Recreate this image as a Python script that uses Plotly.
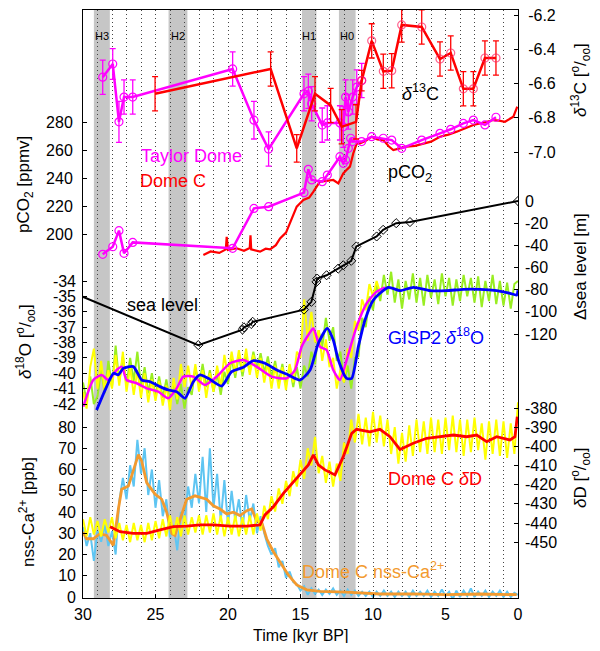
import plotly.graph_objects as go

# ---------------- data ----------------
# Heinrich / cold events (start, end) in kyr BP
event_names = ["H3", "H2", "H1", "H0"]
event_start = [29.25, 24.1, 14.9, 12.35]
event_end = [28.15, 22.8, 13.9, 11.2]

# delta13C Taylor Dome
td_d13c_t = [28.64, 27.95, 27.52, 27.17, 26.57, 19.68, 18.21, 17.2, 14.76, 14.46, 14.23, 13.5, 13.15,
             12.28, 12.05, 11.89, 11.7, 11.4, 11.12, 10.78]
td_d13c_v = [-6.563, -6.486, -6.824, -6.679, -6.679, -6.515, -6.814, -6.983, -6.66, -6.645, -6.718, -6.843,
             -6.83, -6.83, -6.853, -6.679, -6.766, -6.679, -6.621, -6.583]
td_d13c_e = [0.1, 0.09, 0.12, 0.1, 0.1, 0.1, 0.11, 0.1, 0.1, 0.1, 0.1, 0.1, 0.1, 0.1, 0.12, 0.1, 0.1, 0.1, 0.1, 0.1]

# delta13C Dome C
dc_d13c_t = [25.03, 17.06, 15.26, 14.0, 12.92, 12.16, 11.17, 10.78, 10.09, 9.29, 8.71, 8.02, 6.64, 5.38,
             4.64, 3.77, 3.08, 2.28, 1.52]
dc_d13c_v = [-6.66, -6.515, -6.979, -6.66, -6.728, -6.853, -6.824, -6.583, -6.351, -6.529, -6.525, -6.258,
             -6.27, -6.457, -6.422, -6.631, -6.631, -6.451, -6.451]
dc_d13c_e = [0.1, 0.1, 0.08, 0.1, 0.1, 0.1, 0.1, 0.06, 0.1, 0.1, 0.1, 0.1, 0.1, 0.1, 0.1, 0.1, 0.1, 0.1, 0.1]

# pCO2 Taylor Dome
td_co2_t = [28.64, 27.95, 27.52, 27.17, 26.57, 19.68, 18.21, 17.2, 14.76, 14.46, 14.23, 13.5, 13.15, 12.28,
            12.05, 11.89, 11.7, 11.54, 11.4, 10.78, 10.09, 9.29, 8.71, 8.02, 6.64, 5.38, 4.64, 3.77, 3.08,
            2.28, 1.52]
td_co2_v = [185.5, 190.9, 202.4, 186.2, 194.0, 189.8, 218.3, 219.5, 229.5, 246.2, 238.6, 237.4, 242.1, 255.2,
            250.5, 252.9, 261.2, 268.4, 266.0, 266.0, 269.5, 268.4, 267.1, 261.2, 267.1, 271.9, 274.8, 279.0,
            281.4, 277.9, 283.4]

# pCO2 Dome C
dc_co2_t = [21.7, 21.2, 20.6, 20.15, 20.09, 20.0, 19.4, 18.9, 18.5, 18.45, 18.4, 17.79, 17.4, 17.1, 16.7,
            16.41, 16.0, 15.72, 15.26, 14.8, 14.4, 14.11, 13.66, 13.2, 12.74, 12.39, 12.05, 11.8, 11.59, 11.36,
            11.12, 10.9, 10.5, 10.09, 9.7, 9.29, 8.9, 8.6, 8.1, 7.68, 7.1, 6.53, 6.0, 5.38, 4.8, 4.23, 3.6,
            3.08, 2.4, 1.7, 1.3, 0.9, 0.32, 0.05]
dc_co2_v = [185.0, 187.5, 186.5, 189.0, 198.0, 188.6, 189.8, 188.0, 190.0, 199.0, 189.0, 187.4, 189.5, 189.0,
            192.0, 196.9, 201.0, 207.6, 219.5, 224.3, 226.0, 230.2, 237.4, 238.0, 238.6, 236.2, 243.3, 246.0,
            248.1, 257.6, 264.8, 264.8, 266.5, 269.5, 267.5, 267.1, 262.5, 260.0, 261.5, 262.4, 263.0, 264.8,
            266.0, 269.5, 271.0, 273.1, 276.0, 277.9, 279.5, 281.4, 281.0, 280.2, 283.8, 291.0]

# sea level
sl_t = [32.0, 22.05, 19.0, 18.9, 18.4, 18.3, 14.76, 14.25, 13.9, 13.85, 13.2, 12.4, 12.05, 11.5, 11.15,
        9.75, 9.3, 8.4, 7.45, 0.0]
sl_v = [-75.5, -130.0, -116.0, -114.0, -111.0, -109.0, -98.0, -91.0, -73.0, -70.0, -67.0, -61.0, -58.0,
        -54.0, -41.0, -32.0, -26.0, -20.0, -19.0, 0.0]

# GISP2 delta18O smoothed
gisp_t = [29.06, 28.37, 27.9, 27.57, 27.22, 26.53, 25.95, 25.38, 24.69, 24.11, 23.54, 22.97, 22.39, 21.93,
          21.36, 20.44, 19.75, 18.94, 18.25, 17.45, 16.64, 15.84, 15.03, 14.34, 13.77, 13.15, 12.74, 12.39,
          11.82, 11.47, 11.01, 10.55, 9.98, 8.94, 8.14, 7.22, 6.07, 4.92, 3.77, 2.62, 1.47, 0.55, 0.09, 0.0]
gisp_v = [-42.39, -40.87, -40.0, -40.11, -39.68, -39.57, -40.44, -40.55, -40.87, -41.09, -41.2, -41.63, -40.55,
          -40.11, -40.33, -40.83, -39.9, -39.61, -39.18, -39.35, -39.79, -40.11, -40.44, -39.79, -38.05, -37.08,
          -37.84, -39.14, -40.33, -40.33, -38.27, -36.54, -35.24, -34.41, -34.63, -34.41, -34.63, -34.63,
          -34.54, -34.54, -34.63, -34.8, -34.91, -34.6]

# second delta18O record smoothed (magenta)
ngrip_t = [29.98, 29.29, 28.71, 28.25, 27.68, 27.33, 26.99, 26.3, 25.61, 24.81, 24.12, 23.54, 23.08, 22.39,
           21.59, 20.78, 19.86, 18.94, 18.03, 16.99, 15.96, 15.38, 14.92, 14.46, 14.11, 13.66, 13.2, 12.74,
           12.28, 11.82, 11.13, 10.44, 9.75, 9.17]
ngrip_v = [-42.17, -40.44, -40.11, -40.44, -39.79, -39.57, -40.44, -40.65, -40.98, -41.2, -41.63, -40.98,
           -40.22, -40.22, -40.76, -40.22, -39.35, -39.14, -39.57, -40.22, -40.33, -39.79, -38.27, -37.51,
           -37.08, -38.27, -38.49, -39.79, -40.44, -39.14, -36.97, -35.45, -34.69, -34.41]

# raw GISP2 delta18O (green), every 0.25 kyr from 30 kyr
gisp_raw = [-40.6, -41.8, -40.2, -42.0, -41.5, -39.8, -41.3, -39.2, -40.9, -38.2, -40.6, -38.9, -40.8, -39.0,
            -40.5, -38.6, -40.9, -39.6, -41.3, -40.0, -41.5, -40.2, -41.6, -40.4, -41.9, -40.6, -42.0, -40.7,
            -42.3, -40.9, -41.4, -39.6, -40.8, -39.4, -40.9, -39.8, -41.2, -40.0, -41.4, -39.9, -40.7, -39.0,
            -40.3, -38.8, -40.2, -38.9, -39.9, -38.6, -39.7, -38.7, -40.0, -38.9, -40.3, -39.2, -40.6, -39.4,
            -40.8, -39.5, -40.9, -39.6, -41.0, -39.5, -40.2, -38.6, -39.4, -37.2, -38.3, -36.4, -37.9, -37.0,
            -39.2, -38.6, -40.6, -39.5, -41.0, -39.0, -38.9, -36.4, -37.0, -35.0, -35.9, -34.2, -35.3, -33.6,
            -34.9, -33.4, -35.4, -33.9, -35.8, -34.0, -35.2, -33.5, -35.4, -33.8, -35.6, -33.6, -35.1, -33.9,
            -35.5, -33.5, -35.0, -33.8, -35.6, -33.9, -35.3, -33.6, -35.0, -33.8, -35.4, -33.7, -35.7, -34.0,
            -35.3, -33.6, -35.5, -34.0, -35.6, -34.1, -35.8, -34.2, -34.0]

# raw second delta18O record (yellow), every 0.25 kyr from 30 kyr
ngrip_raw = [-41.2, -42.3, -39.6, -38.4, -41.0, -39.2, -41.2, -39.8, -41.0, -38.8, -40.8, -38.6, -41.2, -39.6,
             -41.4, -39.8, -41.6, -40.0, -41.9, -40.4, -41.8, -40.5, -42.1, -40.8, -42.4, -40.3, -41.7, -39.4,
             -40.9, -39.5, -41.0, -39.4, -41.2, -39.8, -41.6, -40.0, -41.2, -39.5, -40.9, -38.8, -40.2, -38.6,
             -40.0, -38.5, -39.9, -38.4, -40.1, -38.8, -40.3, -39.0, -40.6, -39.3, -41.0, -39.5, -41.0, -39.6,
             -41.1, -39.4, -40.6, -38.6, -39.0, -35.2, -37.9, -36.0, -38.0, -37.2, -39.2, -37.8, -39.6, -39.0,
             -41.0, -39.8, -40.6, -38.4, -39.0, -36.6, -37.2, -35.2, -35.9, -34.2, -35.0, -34.0, -34.8]

# Dome C deltaD smoothed
dd_t = [28.14, 27.45, 26.53, 25.61, 24.69, 23.77, 22.85, 21.93, 21.01, 19.86, 18.71, 17.79, 17.45, 16.87,
        16.18, 15.49, 14.8, 14.46, 14.11, 13.77, 13.31, 12.62, 12.05, 11.47, 11.13, 10.21, 9.52, 8.83, 8.14,
        7.22, 6.3, 5.38, 4.46, 3.54, 2.85, 2.16, 1.47, 0.55, 0.21, 0.05]
dd_v = [-441.9, -444.5, -445.4, -445.4, -443.6, -441.9, -441.6, -441.0, -441.0, -441.6, -441.6, -441.0, -435.8,
        -431.5, -424.5, -418.4, -412.3, -409.7, -404.5, -409.7, -412.3, -414.9, -405.4, -393.2, -391.1, -392.4,
        -391.1, -395.0, -401.6, -398.4, -395.8, -395.0, -394.1, -395.0, -394.1, -397.6, -395.0, -396.7, -395.0,
        -384.5]

# Dome C deltaD raw (yellow), every 0.25 kyr from 30 kyr
dd_raw = [-438, -447, -437, -446, -439, -447, -438, -445, -437, -448, -440, -449, -441, -450, -440, -449, -441,
          -450, -440, -449, -439, -448, -438, -447, -436, -446, -437, -447, -436, -446, -437, -445, -436, -446,
          -436, -445, -435, -446, -436, -447, -437, -446, -436, -447, -437, -446, -436, -446, -435, -444, -431,
          -438, -426, -434, -422, -430, -418, -426, -413, -421, -407, -417, -401, -410, -395, -414, -405, -419,
          -408, -421, -409, -418, -398, -404, -386, -398, -383, -399, -385, -400, -382, -398, -384, -400, -386,
          -404, -390, -409, -393, -408, -389, -405, -386, -403, -387, -404, -385, -403, -386, -404, -385, -402,
          -384, -403, -386, -405, -386, -403, -385, -402, -388, -407, -387, -404, -386, -405, -387, -406, -388,
          -404, -377]

# Dome C nss-Ca2+ smoothed
ca_t = [30.0, 29.75, 29.29, 28.83, 28.37, 27.91, 27.56, 27.33, 26.87, 26.53, 26.18, 25.95, 25.61, 25.03,
        24.57, 24.23, 23.88, 23.66, 23.31, 22.85, 22.28, 21.93, 21.47, 21.01, 20.55, 20.09, 19.63, 19.17,
        18.71, 18.37, 18.03, 17.68, 17.33, 16.87, 16.41, 15.84, 15.26, 14.57, 13.66, 11.82, 9.52, 7.22, 4.92,
        2.62, 0.09]
ca_v = [30.6, 27.4, 27.4, 29.8, 29.0, 24.3, 41.4, 50.7, 52.2, 59.2, 67.0, 63.9, 53.8, 48.4, 46.0, 39.9, 29.8,
        29.0, 36.7, 46.0, 47.6, 46.8, 46.0, 42.9, 41.4, 39.1, 39.9, 38.3, 40.6, 41.4, 36.0, 35.2, 27.4, 21.3,
        16.6, 10.4, 5.7, 3.4, 2.6, 2.3, 1.4, 1.5, 1.1, 1.4, 1.1]

# Dome C nss-Ca2+ raw (light blue), every 0.25 kyr from 30 kyr
ca_raw = [33, 24, 30, 17, 31, 26, 34, 24, 31, 20, 45, 56, 46, 62, 52, 74, 58, 70, 48, 60, 42, 55, 38, 46, 28,
          34, 22, 40, 36, 52, 42, 58, 44, 66, 40, 70, 42, 58, 36, 55, 34, 50, 36, 46, 32, 48, 36, 44, 30, 38,
          30, 24, 20, 23, 14, 17, 9, 12, 7, 6, 3, 5, 1, 4, 1.5, 3.5, 1, 3.5, 1.5, 4, 1, 3, 0.5, 3.5, 1, 3, 0.5,
          2.5, 0.5, 2.5, 0, 2.5, 0.5, 3, 0.5, 2.5, 0, 2.5, 0.5, 2.5, 0, 3, 0.5, 2.5, 0.5, 3, 0, 2.5, 0.5, 3.5,
          0.5, 2.5, -1, 3, 0, 3, 0.5, 4, 0, 2.5, 0.5, 3, 0, 2.5, 0.5, 3, 0, 2.5, 0, 2, 1]

x_ticks = [30, 25, 20, 15, 10, 5, 0]
co2_ticks = [200, 220, 240, 260, 280]
d18o_ticks = [-34, -35, -36, -37, -38, -39, -40, -41, -42]
ca_ticks = [0, 10, 20, 30, 40, 50, 60, 70, 80]
d13c_ticks = [-6.2, -6.4, -6.6, -6.8, -7.0]
sl_ticks = [0, -20, -40, -60, -80, -100, -120]
dd_ticks = [-380, -390, -400, -410, -420, -430, -440, -450]

# ---------------- layout geometry (page pixels) ----------------
OFF = 8                      # default body margin of the html page
W, H = 584, 635              # figure size so that the page does not overflow
L, R, T, B = 83, 518, 10, 598  # plot area in page pixels


def yrange(v1, p1, v2, p2):
    s = (p2 - p1) / (v2 - v1)
    return [v1 + (B - p1) / s, v1 + (T - p1) / s]


def px(xp):
    return (xp - L) / (R - L)


def py(yp):
    return (B - yp) / (B - T)


def raw_times(vals):
    return [30 - 0.25 * i for i in range(len(vals))]


FONT = "Liberation Sans, Arial, Helvetica, sans-serif"
RED = "#ff0000"
MAG = "#ff00ff"
BLUE = "#0000ff"
GREEN = "#99ee22"
YELLOW = "#ffff00"
LBLUE = "#5ec5f2"
ORANGE = "#f39a2e"

fig = go.Figure()

# ---- delta18O panel (y2) ----
fig.add_trace(go.Scatter(x=raw_times(gisp_raw), y=gisp_raw, yaxis="y2", mode="lines",
                         line=dict(color=GREEN, width=2.0)))
fig.add_trace(go.Scatter(x=raw_times(ngrip_raw), y=ngrip_raw, yaxis="y2", mode="lines",
                         line=dict(color=YELLOW, width=2.0)))
fig.add_trace(go.Scatter(x=ngrip_t, y=ngrip_v, yaxis="y2", mode="lines",
                         line=dict(color=MAG, width=2.5, shape="spline", smoothing=0.6)))
fig.add_trace(go.Scatter(x=gisp_t, y=gisp_v, yaxis="y2", mode="lines",
                         line=dict(color=BLUE, width=2.8, shape="spline", smoothing=0.6)))

# ---- deltaD & Ca panel ----
fig.add_trace(go.Scatter(x=raw_times(dd_raw), y=dd_raw, yaxis="y6", mode="lines",
                         line=dict(color=YELLOW, width=2.0)))
fig.add_trace(go.Scatter(x=dd_t, y=dd_v, yaxis="y6", mode="lines",
                         line=dict(color=RED, width=2.8)))
fig.add_trace(go.Scatter(x=raw_times(ca_raw), y=ca_raw, yaxis="y3", mode="lines",
                         line=dict(color=LBLUE, width=2.0)))
fig.add_trace(go.Scatter(x=ca_t, y=ca_v, yaxis="y3", mode="lines",
                         line=dict(color=ORANGE, width=2.8)))

# ---- pCO2 ----
fig.add_trace(go.Scatter(x=dc_co2_t, y=dc_co2_v, yaxis="y", mode="lines",
                         line=dict(color=RED, width=2.2)))
fig.add_trace(go.Scatter(x=td_co2_t, y=td_co2_v, yaxis="y", mode="lines+markers",
                         line=dict(color=MAG, width=2.5),
                         marker=dict(symbol="circle-open", size=8, color=MAG, line=dict(width=1.2))))

# ---- delta13C ----
fig.add_trace(go.Scatter(x=td_d13c_t, y=td_d13c_v, yaxis="y4", mode="lines+markers",
                         line=dict(color=MAG, width=2.5),
                         marker=dict(symbol="circle-open", size=8, color=MAG, line=dict(width=1.2)),
                         error_y=dict(type="data", array=td_d13c_e, color=MAG, thickness=1.3, width=3)))
dc_marker_size = [0 if t > 11 else 8 for t in dc_d13c_t]
fig.add_trace(go.Scatter(x=dc_d13c_t, y=dc_d13c_v, yaxis="y4", mode="lines+markers",
                         line=dict(color=RED, width=2.5),
                         marker=dict(symbol="circle-open", size=dc_marker_size, color="#ff2060",
                                     line=dict(width=1.2)),
                         error_y=dict(type="data", array=dc_d13c_e, color=RED, thickness=1.3, width=3)))

# ---- sea level ----
fig.add_trace(go.Scatter(x=sl_t, y=sl_v, yaxis="y5", mode="lines+markers",
                         line=dict(color="black", width=2),
                         marker=dict(symbol="diamond-open", size=7, color="black", line=dict(width=1))))

# ---------------- axes ----------------
tickfont = dict(family=FONT, size=16, color="black")
common = dict(showgrid=False, zeroline=False, ticks="inside", ticklen=4, tickcolor="black",
              tickfont=tickfont, anchor="x", ticklabelstandoff=6, automargin=False,
              ticklabeloverflow="allow")

fig.update_layout(
    template="none",
    width=W, height=H,
    margin=dict(l=L - OFF, r=W - (R - OFF), t=T - OFF, b=H - (B - OFF), pad=0, autoexpand=False),
    paper_bgcolor="white", plot_bgcolor="white",
    font=dict(family=FONT, color="black"),
    showlegend=False,
    xaxis=dict(range=[30, 0], tickvals=x_ticks, ticktext=[str(v) for v in x_ticks],
               showline=True, linecolor="black", linewidth=1, mirror=True,
               ticks="inside", ticklen=4, tickcolor="black", tickfont=tickfont,
               showgrid=True, gridcolor="#444", griddash="1px,3px", gridwidth=1, zeroline=False,
               minor=dict(dtick=1, showgrid=True, gridcolor="#444", griddash="1px,3px", gridwidth=1,
                          ticks=""),
               ticklabelstandoff=2, automargin=False, ticklabeloverflow="allow"),
    yaxis=dict(range=yrange(280, 122, 200, 234), side="left", tickvals=co2_ticks,
               ticktext=[str(v) for v in co2_ticks], showline=True, linecolor="black", linewidth=1,
               **common),
    yaxis2=dict(range=yrange(-34, 281, -42, 404), side="left", overlaying="y", tickvals=d18o_ticks,
                ticktext=[f"-{abs(v)}" for v in d18o_ticks], showline=False, **common),
    yaxis3=dict(range=yrange(80, 427, 0, 597), side="left", overlaying="y", tickvals=ca_ticks,
                ticktext=[str(v) for v in ca_ticks], showline=False, **common),
    yaxis4=dict(range=yrange(-6.2, 15, -7.0, 152), side="right", overlaying="y", tickvals=d13c_ticks,
                ticktext=[f"-{abs(v):.1f}" for v in d13c_ticks], showline=True, linecolor="black",
                linewidth=1, **common),
    yaxis5=dict(range=yrange(0, 201, -120, 334), side="right", overlaying="y", tickvals=sl_ticks,
                ticktext=[("-" if v < 0 else "") + str(abs(v)) for v in sl_ticks], showline=False, **common),
    yaxis6=dict(range=yrange(-380, 408, -440, 523), side="right", overlaying="y", tickvals=dd_ticks,
                ticktext=[f"-{abs(v)}" for v in dd_ticks], showline=False, **common),
)

# gray event bands
for s, e, name in zip(event_start, event_end, event_names):
    fig.add_shape(type="rect", xref="x", yref="paper", x0=s, x1=e, y0=0, y1=1,
                  fillcolor="#c6c6c6", line=dict(width=0), layer="below")
    fig.add_annotation(x=(s + e) / 2, xref="x", y=py(35.5), yref="paper", text=name, showarrow=False,
                       xanchor="center", yanchor="middle",
                       font=dict(family=FONT, size=11, color="black"))

# in-plot labels
labels = [
    ("<i>δ</i><sup>13</sup>C", 420, 92, "black", 18),
    ("Taylor Dome", 191, 156, MAG, 18),
    ("Dome C", 173, 181, RED, 18),
    ("pCO<sub>2</sub>", 410, 173, "black", 18),
    ("sea level", 162, 305, "black", 18),
    ("GISP2 <i>δ</i><sup>18</sup>O", 436, 336, BLUE, 18),
    ("Dome C <i>δ</i>D", 435, 479, RED, 18),
    ("Dome C nss-Ca<sup>2+</sup>", 373, 570, ORANGE, 18),
]
for txt, xx, yy, col, sz in labels:
    fig.add_annotation(x=px(xx), y=py(yy), xref="paper", yref="paper", text=txt, showarrow=False,
                       xanchor="center", yanchor="middle",
                       font=dict(family=FONT, size=sz, color=col))

permil = "[<sup>o</sup>/<sub>oo</sub>]"
titles = [
    ("pCO<sub>2</sub> [ppmv]", 25, 185),
    ("<i>δ</i><sup>18</sup>O " + permil, 25, 342),
    ("nss-Ca<sup>2+</sup> [ppb]", 27, 512),
    ("<i>δ</i><sup>13</sup>C " + permil, 580, 80),
    ("Δsea level [m]", 580, 267),
    ("<i>δ</i>D " + permil, 580, 478),
]
for txt, xx, yy in titles:
    fig.add_annotation(x=px(xx), y=py(yy), xref="paper", yref="paper", text=txt, showarrow=False,
                       textangle=-90, xanchor="center", yanchor="middle",
                       font=dict(family=FONT, size=17, color="black"))

fig.add_annotation(x=px(300), y=py(635), xref="paper", yref="paper", text="Time [kyr BP]", showarrow=False,
                   xanchor="center", yanchor="middle",
                   font=dict(family=FONT, size=16, color="black"))

fig.write_html("out.html")
